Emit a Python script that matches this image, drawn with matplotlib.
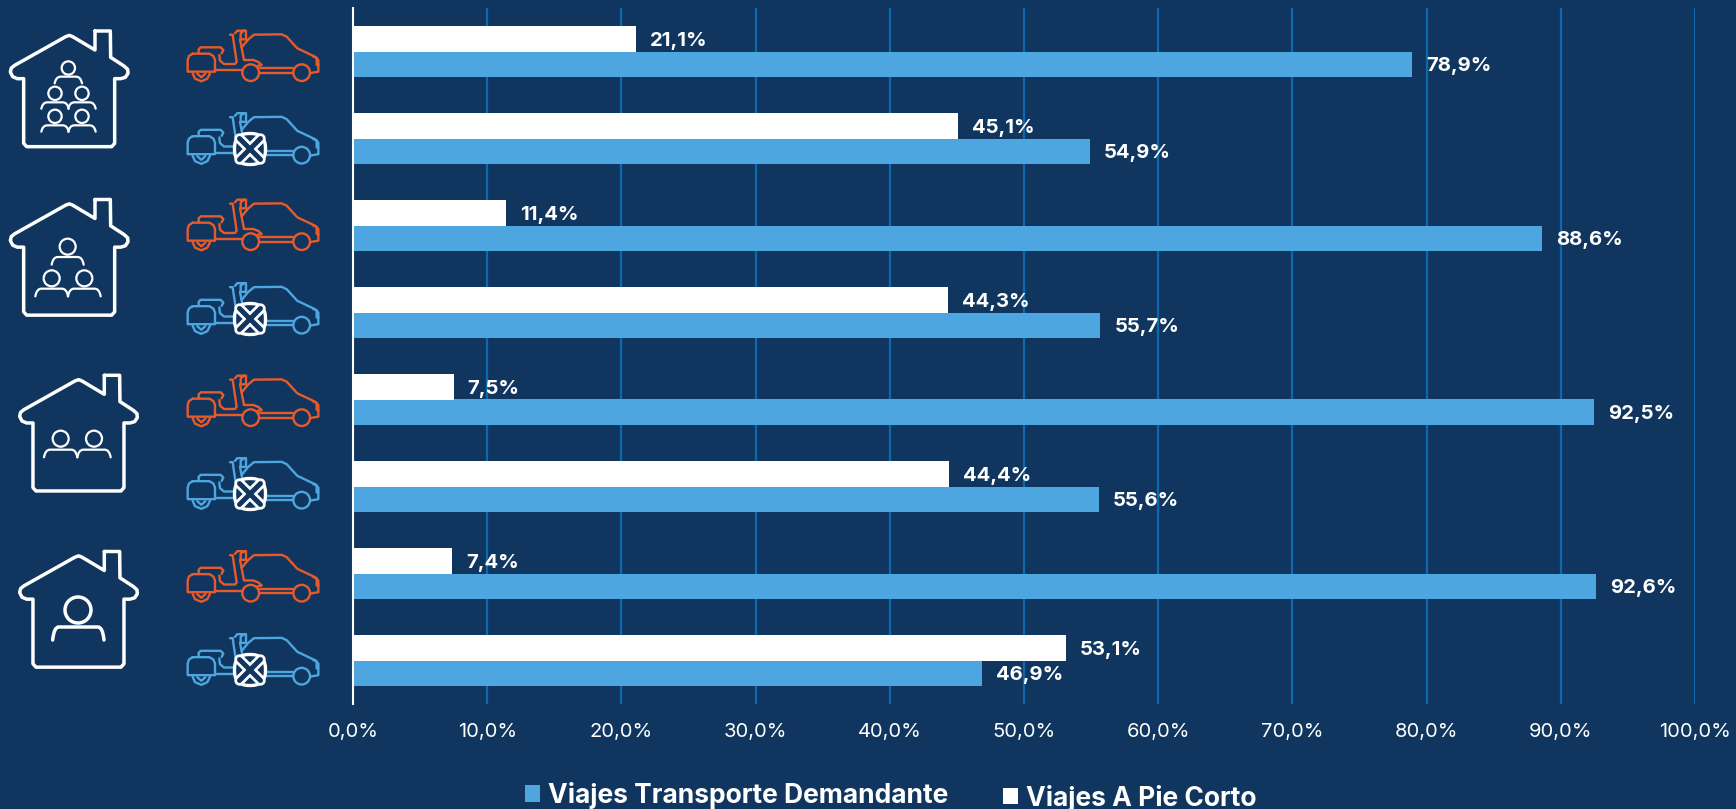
import matplotlib
matplotlib.use("Agg")
import matplotlib.pyplot as plt
import numpy as np
from matplotlib.patches import Circle, PathPatch, Polygon
from matplotlib.path import Path

categories = ["4+ demandante", "4+ no demandante", "3 demandante", "3 no demandante",
              "2 demandante", "2 no demandante", "1 demandante", "1 no demandante"]
transporte = [78.9, 54.9, 88.6, 55.7, 92.5, 55.6, 92.6, 46.9]
a_pie = [21.1, 45.1, 11.4, 44.3, 7.5, 44.4, 7.4, 53.1]
labels_transporte = ["78,9%", "54,9%", "88,6%", "55,7%", "92,5%", "55,6%", "92,6%", "46,9%"]
labels_pie = ["21,1%", "45,1%", "11,4%", "44,3%", "7,5%", "44,4%", "7,4%", "53,1%"]
x_ticks = list(range(0, 101, 10))
x_ticklabels = [f"{v},0%" for v in x_ticks]

BG = "#10365F"
BLUE = "#4DA6DF"
ORANGE = "#E95A2A"
GRID = "#0B69AD"
W, H = 1736, 809
plt.rcParams["font.family"] = ["Inter", "DejaVu Sans"]

fig = plt.figure(figsize=(W / 100, H / 100), dpi=100, facecolor=BG)
ax = fig.add_axes([353 / W, 1 - 704 / H, (1695 - 353) / W, (704 - 8) / H], facecolor=BG)
y = np.arange(len(categories))
bar_h = 0.293
b_t = ax.barh(y + bar_h / 2, transporte, bar_h, color=BLUE, zorder=3, label="Viajes Transporte Demandante")
b_p = ax.barh(y - bar_h / 2, a_pie, bar_h, color="white", zorder=3, label="Viajes A Pie Corto")
ax.set_ylim(len(categories) - 0.5, -0.5)
ax.set_xlim(0, 100)
ax.set_xticks(x_ticks, x_ticklabels, color="white", fontsize=14.5)
ax.set_yticks([])
ax.tick_params(axis="x", length=0, pad=14)
ax.grid(axis="x", color=GRID, lw=1.6, zorder=1)
ax.set_axisbelow(True)
for s in ["top", "right", "bottom"]:
    ax.spines[s].set_visible(False)
ax.spines["left"].set_color("white")
ax.spines["left"].set_linewidth(1.5)
ax.spines["left"].set_zorder(5)

for i in y:
    ax.annotate(labels_transporte[i], (transporte[i], i + bar_h / 2), xytext=(14, -1.5), textcoords="offset pixels",
                va="center", color="white", fontsize=14.6, fontweight="bold", zorder=6)
    ax.annotate(labels_pie[i], (a_pie[i], i - bar_h / 2), xytext=(14, -2.5), textcoords="offset pixels",
                va="center", color="white", fontsize=14.6, fontweight="bold", zorder=6)

leg_style = dict(loc="center left", frameon=False, labelcolor="white", prop={"size": 19, "weight": "bold"},
                 handlelength=0.58, handleheight=0.58, handletextpad=0.3, borderpad=0, borderaxespad=0)
fig.legend(handles=[b_t], bbox_to_anchor=(525 / W, 1 - 795.5 / H), **leg_style)
fig.legend(handles=[b_p], bbox_to_anchor=(1003 / W, 1 - 798 / H), **leg_style)

# pictograms: overlay in pixel space
ov = fig.add_axes([0, 0, 1, 1], facecolor="none")
ov.set_xlim(0, W)
ov.set_ylim(H, 0)
ov.axis("off")
ov.set_zorder(10)


def line(pts, dx, dy, color, lw, closed=False):
    p = np.array(pts, float) / 3
    if closed:
        p = np.vstack([p, p[:1]])
    ov.plot(p[:, 0] + dx, p[:, 1] + dy, color=color, lw=lw, solid_capstyle="round", solid_joinstyle="round")


def circ(cx, cy, r, dx, dy, color, lw, fill="none"):
    ov.add_patch(Circle((cx / 3 + dx, cy / 3 + dy), r / 3, fc=fill, ec=color, lw=lw, zorder=4))


def arc_curve(x0, x1, y0, ytop, dx, dy, color, lw):
    verts = [(x0, y0), (x0 + 4, ytop), (x0 + 18, ytop), (x1 - 18, ytop), (x1 - 4, ytop), (x1, y0)]
    verts = [(a / 3 + dx, b / 3 + dy) for a, b in verts]
    codes = [Path.MOVETO, Path.CURVE3, Path.CURVE3, Path.LINETO, Path.CURVE3, Path.CURVE3]
    ov.add_patch(PathPatch(Path(verts, codes), fc="none", ec=color, lw=lw, capstyle="round"))


def house(dx, dy):
    pts = [(285, 93), (331, 93), (332, 172), (372, 198), (383, 208), (384, 220), (376, 232), (362, 236), (344, 236),
           (344, 430), (335, 440), (80, 440), (71, 430), (71, 236), (52, 236), (38, 230), (31, 216), (34, 204), (44, 196),
           (197, 110), (208, 106), (218, 110), (285, 150)]
    line(pts, dx, dy, "white", 2.5, closed=True)


def person(cx, cy, r, w, rise, drop, dx, dy, lw=1.6):
    circ(cx, cy, r, dx, dy, "white", lw)
    arc_curve(cx - w, cx + w, cy + r + drop, cy + r + rise, dx, dy, "white", lw)


house(0, 0)
person(205, 204, 20, 41, 6, 26, 0, 0)
for cx, cy in [(165, 280), (246, 280), (165, 349), (246, 349)]:
    person(cx, cy, 20, 41, 7, 26, 0, 0)

house(0, 168.5)
person(203, 170, 24, 48, 7, 30, 0, 190)
person(155, 265, 24, 49, 7, 30, 0, 190)
person(253, 265, 24, 49, 7, 30, 0, 190)

house(9.3, 344.3)
person(182, 746, 24, 50, 9, 32, 0, 190)
person(282, 746, 24, 50, 9, 32, 0, 190)

house(9.3, 520.5)
circ(234, 240, 39, 0, 530, "white", 2.5)
arc_curve(158, 312, 330, 291, 0, 530, "white", 2.5)


def vehicle(dy, color):
    dx = 0
    lw = 1.7
    line([(725, 142), (745, 118), (762, 104), (845, 103), (860, 110), (892, 145), (945, 170), (955, 180), (955, 215),
          (932, 219)], dx, dy, color, lw)
    line([(940, 170), (950, 173), (950, 195), (955, 195)], dx, dy, color, lw)
    line([(780, 204), (880, 204)], dx, dy, color, lw)
    line([(780, 218), (880, 218)], dx, dy, color, lw)
    circ(905, 218, 25, dx, dy, color, lw)
    circ(752, 218, 25, dx, dy, color, lw)
    line([(578, 161), (628, 161), (640, 168), (645, 180), (645, 215), (563, 215), (563, 180), (567, 168)],
         dx, dy, color, lw, True)
    line([(596, 160), (596, 148), (602, 142), (662, 142), (670, 150), (665, 160)], dx, dy, color, lw)
    line([(578, 220), (585, 236), (604, 244), (622, 236), (630, 220)], dx, dy, color, lw)
    line([(592, 221), (604, 232), (616, 221)], dx, dy, color, lw)
    line([(645, 210), (725, 210)], dx, dy, color, lw)
    line([(658, 165), (660, 182), (672, 192), (705, 192), (710, 186), (700, 118), (698, 104), (690, 104)],
         dx, dy, color, lw)
    line([(705, 100), (712, 92), (738, 92), (738, 118), (722, 118), (722, 100), (732, 92)], dx, dy, color, lw)
    line([(720, 118), (732, 180), (760, 180), (775, 186), (785, 195), (772, 198)], dx, dy, color, lw)


def no_mark(dx, dy):
    cx, cy = 250 + dx, 149 + dy
    t = np.linspace(0, 2 * np.pi, 81)
    px = 15.5 * np.sign(np.cos(t)) * np.abs(np.cos(t)) ** 0.8
    py = 15.5 * np.sign(np.sin(t)) * np.abs(np.sin(t)) ** 0.8
    ov.add_patch(Polygon(np.c_[cx + px, cy + py], closed=True, fc=BG, ec="white", lw=2.4, zorder=5))
    for sgn in (1, -1):
        ov.plot([cx - 10.5, cx + 10.5], [cy - 10.5 * sgn, cy + 10.5 * sgn], color="white", lw=7.5,
                solid_capstyle="round", zorder=6)
    for sgn in (1, -1):
        ov.plot([cx - 10.5, cx + 10.5], [cy - 10.5 * sgn, cy + 10.5 * sgn], color=BG, lw=3.6,
                solid_capstyle="round", zorder=7)


for off in [0, 169, 345, 520.5]:
    vehicle(off, ORANGE)
for off in [0, 170, 345, 521]:
    vehicle(off + 82.5, BLUE)
    no_mark(0, off)

fig.savefig("out.png", dpi=100, facecolor=BG)
